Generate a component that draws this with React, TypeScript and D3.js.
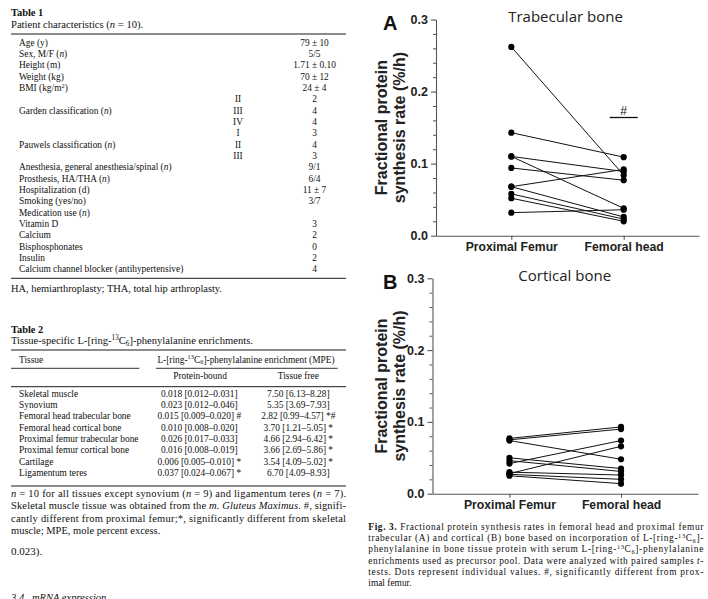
import React, { useEffect, useRef } from "react";
import * as d3 from "d3";

// chart data (fractional synthesis rate, %/h), one entry per patient
const categories = ["Proximal Femur", "Femoral head"];
const trabecularProximal = [0.262, 0.143, 0.110, 0.110, 0.094, 0.068, 0.068, 0.058, 0.052, 0.032];
const trabecularFemoral = [0.084, 0.109, 0.089, 0.038, 0.077, 0.092, 0.026, 0.023, 0.020, 0.036];
const corticalProximal = [0.077, 0.075, 0.074, 0.042, 0.028, 0.050, 0.046, 0.030, 0.027, 0.025];
const corticalFemoral = [0.093, 0.090, 0.048, 0.074, 0.066, 0.035, 0.031, 0.026, 0.020, 0.014];
const yTicks = [0, 0.1, 0.2, 0.3];
const yTickLabels = ["0.0", "0.1", "0.2", "0.3"];
const yMinorTicks = [0.02, 0.04, 0.06, 0.08, 0.12, 0.14, 0.16, 0.18, 0.22, 0.24, 0.26, 0.28];

// Table 1
const table1Labels = [
  "Age (y)", "Sex, M/F ({n})", "Height (m)", "Weight (kg)", "BMI (kg/m^2^)",
  "", "Garden classification ({n})", "", "", "Pauwels classification ({n})", "",
  "Anesthesia, general anesthesia/spinal ({n})", "Prosthesis, HA/THA ({n})",
  "Hospitalization (d)", "Smoking (yes/no)", "Medication use ({n})",
  "Vitamin D", "Calcium", "Bisphosphonates", "Insulin",
  "Calcium channel blocker (antihypertensive)",
];
const table1Groups = ["", "", "", "", "", "II", "III", "IV", "I", "II", "III", "", "", "", "", "", "", "", "", "", ""];
const table1Values = [
  "79 ± 10", "5/5", "1.71 ± 0.10", "70 ± 12", "24 ± 4", "2", "4", "4", "3", "4", "3",
  "9/1", "6/4", "11 ± 7", "3/7", "", "3", "2", "0", "2", "4",
];

// Table 2
const table2Tissues = [
  "Skeletal muscle", "Synovium", "Femoral head trabecular bone", "Femoral head cortical bone",
  "Proximal femur trabecular bone", "Proximal femur cortical bone", "Cartilage", "Ligamentum teres",
];
const table2Bound = [
  "0.018 [0.012–0.031]", "0.023 [0.012–0.046]", "0.015 [0.009–0.020] #", "0.010 [0.008–0.020]",
  "0.026 [0.017–0.033]", "0.016 [0.008–0.019]", "0.006 [0.005–0.010] *", "0.037 [0.024–0.067] *",
];
const table2Free = [
  "7.50 [6.13–8.28]", "5.35 [3.69–7.93]", "2.82 [0.99–4.57] *#", "3.70 [1.21–5.05] *",
  "4.66 [2.94–6.42] *", "3.66 [2.69–5.86] *", "3.54 [4.09–5.02] *", "6.70 [4.09–8.93]",
];
const table2Note = [
  "{n} = 10 for all tissues except synovium ({n} = 9) and ligamentum teres ({n} = 7).",
  "Skeletal muscle tissue was obtained from the {m. Gluteus Maximus}. #, signifi-",
  "cantly different from proximal femur;*, significantly different from skeletal",
  "muscle; MPE, mole percent excess.",
];
const figCaption = [
  "|Fig. 3.| Fractional protein synthesis rates in femoral head and proximal femur",
  "trabecular (A) and cortical (B) bone based on incorporation of L-[ring-^13^C_6_]-",
  "phenylalanine in bone tissue protein with serum L-[ring-^13^C_6_]-phenylalanine",
  "enrichments used as precursor pool. Data were analyzed with paired samples {t}-",
  "tests. Dots represent individual values. #, significantly different from prox-",
  "imal femur.",
];

const SERIF = "'Liberation Serif', 'DejaVu Serif', serif";
const SANS = "'Liberation Sans', Arial, sans-serif";

// {..} italic, ^..^ superscript, _.._ subscript, |..| bold
function rich(sel: any, str: string, size: number) {
  const parts = str.split(/(\{[^}]*\}|\^[^^]*\^|_[^_]*_|\|[^|]*\|)/g).filter((p) => p !== "");
  let shift = 0;
  parts.forEach((p) => {
    let t = p;
    let dy = 0;
    let fs = size;
    let italic = false;
    let bold = false;
    if (p[0] === "{") { t = p.slice(1, -1); italic = true; }
    else if (p[0] === "^") { t = p.slice(1, -1); fs = size * 0.68; dy = -size * 0.36; }
    else if (p[0] === "_") { t = p.slice(1, -1); fs = size * 0.68; dy = size * 0.18; }
    else if (p[0] === "|") { t = p.slice(1, -1); bold = true; }
    const ts = sel.append("tspan").text(t).attr("font-size", fs);
    if (italic) ts.attr("font-style", "italic");
    if (bold) ts.attr("font-weight", "bold");
    if (dy - shift !== 0) ts.attr("dy", dy - shift);
    shift = dy;
  });
}

function txt(g: any, x: number, y: number, str: string, size: number, anchor = "start", justify = 0) {
  const t = g.append("text")
    .attr("x", x).attr("y", y)
    .attr("font-family", SERIF).attr("font-size", size)
    .attr("text-anchor", anchor).attr("fill", "#111")
    .style("white-space", "pre");
  rich(t, str, size);
  if (justify) t.attr("textLength", justify).attr("lengthAdjust", "spacing");
  return t;
}

function rule(g: any, x1: number, x2: number, y: number, w = 0.9) {
  g.append("line").attr("x1", x1).attr("x2", x2).attr("y1", y).attr("y2", y)
    .attr("stroke", "#000").attr("stroke-width", w);
}

type Panel = {
  letter: string; title: string; prox: number[]; fem: number[];
  x0: number; x1: number; yb: number; yt: number; pad: number; hash: boolean; titleDx: number;
};

const panels: Panel[] = [
  { letter: "A", title: "Trabecular bone", prox: trabecularProximal, fem: trabecularFemoral,
    x0: 436, x1: 699, yb: 235.7, yt: 19.5, pad: 0.67, hash: true, titleDx: -2 },
  { letter: "B", title: "Cortical bone", prox: corticalProximal, fem: corticalFemoral,
    x0: 432.5, x1: 698, yb: 493.7, yt: 278.3, pad: 0.69, hash: false, titleDx: -0.5 },
];

function drawPanel(svg: any, p: Panel) {
  const y = d3.scaleLinear().domain([0, 0.3]).range([p.yb, p.yt]);
  const x = d3.scalePoint().domain(categories).range([p.x0, p.x1]).padding(p.pad);
  const g = svg.append("g");
  const axisColor = "#555";

  const minor = g.append("g").attr("transform", `translate(${p.x0},0)`)
    .call(d3.axisLeft(y).tickValues(yMinorTicks).tickSize(3).tickSizeOuter(0).tickFormat(() => ""));
  minor.select(".domain").remove();
  minor.selectAll("line").attr("stroke", axisColor);

  const ya = g.append("g").attr("transform", `translate(${p.x0},0)`)
    .call(d3.axisLeft(y).tickValues(yTicks).tickSize(5).tickPadding(3).tickSizeOuter(0)
      .tickFormat((d: any, i: number) => yTickLabels[i]));
  ya.selectAll("path,line").attr("stroke", axisColor).attr("stroke-width", 1.1);
  ya.selectAll("text").attr("font-family", SANS).attr("font-weight", "bold")
    .attr("font-size", 12.5).attr("fill", "#222");

  const xa = g.append("g").attr("transform", `translate(0,${p.yb})`)
    .call(d3.axisBottom(x).tickSize(4).tickPadding(3).tickSizeOuter(0));
  xa.selectAll("path,line").attr("stroke", axisColor).attr("stroke-width", 1.1);
  xa.selectAll("text").attr("font-family", SANS).attr("font-weight", "bold")
    .attr("font-size", 12.2).attr("fill", "#222");

  // paired lines + dots
  const px = x(categories[0]) as number;
  const fx = x(categories[1]) as number;
  p.prox.forEach((v, i) => {
    g.append("line").attr("x1", px).attr("y1", y(v)).attr("x2", fx).attr("y2", y(p.fem[i]))
      .attr("stroke", "#111").attr("stroke-width", 1);
  });
  p.prox.forEach((v) => g.append("circle").attr("cx", px).attr("cy", y(v)).attr("r", 3.1).attr("fill", "#000"));
  p.fem.forEach((v) => g.append("circle").attr("cx", fx).attr("cy", y(v)).attr("r", 3.1).attr("fill", "#000"));

  // y label
  const cy = (p.yb + p.yt) / 2;
  [["Fractional protein", 387], ["synthesis rate (%/h)", 405]].forEach(([s, bx]) => {
    g.append("text").attr("transform", `translate(${bx},${cy}) rotate(-90)`)
      .attr("text-anchor", "middle").attr("font-family", SANS).attr("font-weight", "bold")
      .attr("font-size", 16).attr("fill", "#222").text(s as string);
  });

  g.append("text").attr("x", 383).attr("y", p.yt + 10.5).attr("font-family", SANS)
    .attr("font-weight", "bold").attr("font-size", 20).attr("fill", "#111").text(p.letter);
  g.append("text").attr("x", (px + fx) / 2 + p.titleDx).attr("y", p.yt + 2.5).attr("text-anchor", "middle")
    .attr("font-family", "'Open Sans', sans-serif").attr("font-size", 15).attr("fill", "#222").text(p.title);

  if (p.hash) {
    const hy = y(0.164);
    g.append("line").attr("x1", fx - 14).attr("x2", fx + 14).attr("y1", hy).attr("y2", hy)
      .attr("stroke", "#111").attr("stroke-width", 1.3);
    g.append("text").attr("x", fx).attr("y", hy - 3).attr("text-anchor", "middle")
      .attr("font-family", SANS).attr("font-size", 12).attr("fill", "#111").text("#");
  }
}

const App = () => {
  const ref = useRef<SVGSVGElement>(null);

  useEffect(() => {
    const svg = d3.select(ref.current);
    svg.selectAll("*").remove();
    svg.append("rect").attr("width", 708).attr("height", 599).attr("fill", "#fff");
    const g = svg.append("g");
    const row = 9.4;

    // Table 1
    txt(g, 11, 16, "|Table 1|", 10.4);
    txt(g, 11, 28, "Patient characteristics ({n} = 10).", 10.6);
    rule(g, 11, 346, 34);
    table1Labels.forEach((s, i) => {
      const by = 45.7 + i * 11.33;
      if (s) txt(g, 19, by, s, row);
      if (table1Groups[i]) txt(g, 238, by, table1Groups[i], row, "middle");
      if (table1Values[i]) txt(g, 314.5, by, table1Values[i], row, "middle");
    });
    rule(g, 11, 346, 278.3);
    txt(g, 11, 291.7, "HA, hemiarthroplasty; THA, total hip arthroplasty.", 10.4);

    // Table 2
    txt(g, 11, 332.7, "|Table 2|", 10.4);
    txt(g, 11, 344.3, "Tissue-specific L-[ring-^13^C_6_]-phenylalanine enrichments.", 10.6);
    rule(g, 11, 346, 350);
    txt(g, 19, 362.7, "Tissue", row);
    txt(g, 246, 362.7, "L-[ring-^13^C_6_]-phenylalanine enrichment (MPE)", row, "middle");
    rule(g, 11, 139.3, 368.3, 0.8);
    rule(g, 156, 337.7, 368.3, 0.8);
    txt(g, 200, 379, "Protein-bound", row, "middle");
    txt(g, 298.3, 379, "Tissue free", row, "middle");
    rule(g, 11, 346, 386.7);
    table2Tissues.forEach((s, i) => {
      const by = 396.7 + i * 11.33;
      txt(g, 19, by, s, row);
      txt(g, 199.3, by, table2Bound[i], row, "middle");
      txt(g, 298.3, by, table2Free[i], row, "middle");
    });
    rule(g, 11, 346, 486);
    table2Note.forEach((s, i) => {
      txt(g, 11, 496.7 + i * 12.55, s, 10.5, "start", i < 3 ? 335 : 0);
    });
    txt(g, 11, 555, "0.023).", 11);
    txt(g, 11, 601, "{3.4.  mRNA expression}", 10.5);

    // Figure caption
    figCaption.forEach((s, i) => {
      txt(g, 368.3, 530 + i * 11.2, s, 9.4, "start", i < 5 ? 335 : 0);
    });

    panels.forEach((p) => drawPanel(svg, p));
  }, []);

  return (
    <div style={{ position: "absolute", left: 0, top: 0 }}>
      <svg ref={ref} width={708} height={599} style={{ display: "block" }}></svg>
    </div>
  );
};

export default App;
